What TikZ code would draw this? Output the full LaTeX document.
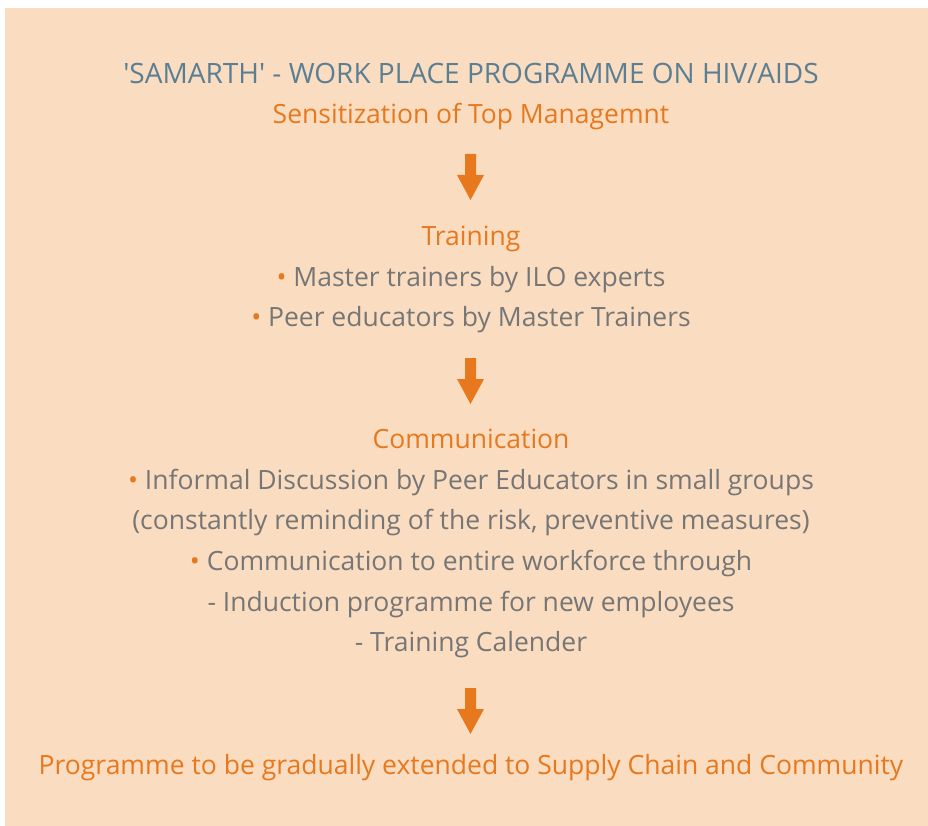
\documentclass[tikz,border=0pt]{standalone}
\usepackage{fontspec}
\setmainfont{Open Sans}[Ligatures=TeXOff]
\definecolor{bgpeach}{HTML}{FADDC0}
\definecolor{titleblue}{HTML}{5A7E93}
\definecolor{accent}{HTML}{E8781E}
\definecolor{bodygray}{HTML}{767676}
\begin{document}
\begin{tikzpicture}[x=1pt,y=-1pt,
  txt/.style={anchor=base,inner sep=0pt,font=\fontsize{26.5}{30}\selectfont},
  head/.style={txt,text=accent},
  body/.style={txt,text=bodygray},
  ttl/.style={txt,text=titleblue,font=\fontsize{28}{32}\selectfont},
  blockarrow/.style={fill=accent,draw=none}]
\useasboundingbox (0,0) rectangle (928,826);
\fill[bgpeach] (5,8) rectangle (928,826);
\newcommand{\bul}{{\color{accent}\textbullet}\ }
\node[ttl]  (t1) at (471,84)  {'SAMARTH' - WORK PLACE PROGRAMME ON HIV/AIDS};
\node[head] (t2) at (471,124) {Sensitization of Top Managemnt};
\node[head] (tr) at (471,246) {Training};
\node[body] (tr1) at (471,286) {\bul Master trainers by ILO experts};
\node[body] (tr2) at (471,326) {\bul Peer educators by Master Trainers};
\node[head] (cm) at (471,448) {Communication};
\node[body] (cm1) at (471,489) {\bul Informal Discussion by Peer Educators in small groups};
\node[body] (cm2) at (471,529) {(constantly reminding of the risk, preventive measures)};
\node[body] (cm3) at (471,570) {\bul Communication to entire workforce through};
\node[body] (cm4) at (471,611) {- Induction programme for new employees};
\node[body] (cm5) at (471,651) {- Training Calender};
\node[head] (pg) at (471,774) {Programme to be gradually extended to Supply Chain and Community};
\foreach \y in {154,358,688}{
  \fill[blockarrow] (465,\y) -- (476,\y) -- (476,\y+21) -- (484,\y+21) -- (470.5,\y+46) -- (457,\y+21) -- (465,\y+21) -- cycle;
}
\end{tikzpicture}
\end{document}
